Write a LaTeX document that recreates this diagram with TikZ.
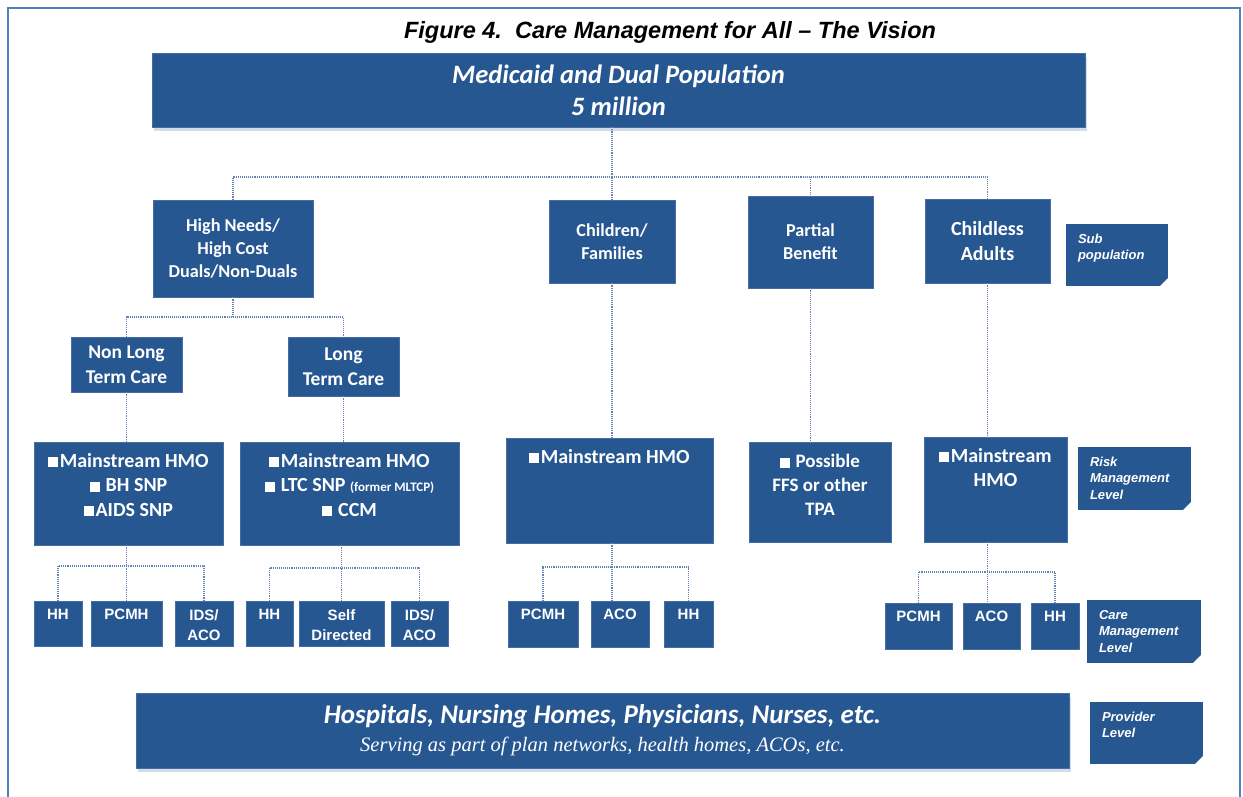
\documentclass[tikz,border=0pt]{standalone}
\usepackage{fontspec}
\setmainfont{Carlito}
\newfontfamily\arialf{Liberation Sans}
\newfontfamily\seriff{Liberation Serif}
\usetikzlibrary{shadows}
\definecolor{boxblue}{RGB}{39,87,145}
\definecolor{boxedge}{RGB}{70,110,165}
\definecolor{dotc}{RGB}{100,130,180}
\definecolor{framec}{RGB}{79,129,189}
\newcommand{\sqb}{\rule{0.5em}{0.5em}\kern1.5pt}
\newcommand{\topbox}[4]{\parbox[c][#2][t]{#1}{\centering\vspace*{#3}#4\par}}
\newcommand{\lvltext}[3]{\parbox[c][#2][t]{#1}{\raggedright\leftskip=12pt\vspace*{10pt}#3\par}}
\begin{document}
\begin{tikzpicture}[x=1pt,y=-1pt,
  box/.style={fill=boxblue, draw=boxedge, line width=0.6pt, text=white, inner sep=0pt, align=center},
  wh/.style 2 args={minimum width=#1, minimum height=#2},
  mid/.style={font=\bfseries\fontsize{18.2}{23}\selectfont},
  plan/.style={font=\bfseries\fontsize{20}{24.5}\selectfont},
  small/.style={font=\arialf\bfseries\fontsize{15}{20}\selectfont},
  lvl/.style={fill=boxblue, text=white, inner sep=0pt,
    font=\arialf\bfseries\itshape\fontsize{13}{16.5}\selectfont,
    path picture={\fill[white] ([xshift=-8pt]path picture bounding box.south east) -- (path picture bounding box.south east) -- ([yshift=8pt]path picture bounding box.south east) -- cycle;}},
  conn/.style={draw=dotc, line width=1.2pt, dash pattern=on 1.1pt off 1pt},
  shade/.style={drop shadow={shadow xshift=2pt, shadow yshift=-4pt, fill=boxblue!35, opacity=0.6}}
]
\useasboundingbox (0,0) rectangle (1243,797);
\draw[framec, line width=1.5pt] (8,800) -- (8,8) -- (1240,8) -- (1240,800);

\node[font=\arialf\bfseries\itshape\fontsize{23.5}{28}\selectfont] (title) at (670,32) {Figure 4.\ \ Care Management for All – The Vision};

\node[box, shade, wh={933}{74}, font=\bfseries\itshape\fontsize{26.5}{32}\selectfont] (top) at (618.5,90) {Medicaid and Dual Population\\5 million};

% sub populations
\node[box, mid, wh={160}{97}] (hn) at (233,248.5) {High Needs/\\High Cost\\Duals/Non-Duals};
\node[box, mid, wh={126}{83}] (ch) at (612,241.5) {Children/\\Families};
\node[box, mid, wh={125}{92}] (pb) at (810.5,242) {Partial\\Benefit};
\node[box, wh={125}{84}, font=\bfseries\fontsize{20}{25}\selectfont] (ca) at (987.5,241) {Childless\\Adults};
\node[lvl] (subp) at (1117,255) {\lvltext{102pt}{62pt}{Sub\\population}};

\node[box, wh={111}{55}, font=\bfseries\fontsize{19.5}{25}\selectfont] (nl) at (126.5,364.5) {Non Long\\Term Care};
\node[box, wh={111}{59}, font=\bfseries\fontsize{19.5}{25}\selectfont] (lt) at (343.5,366.5) {Long\\Term Care};

% risk management level
\node[box, plan] (pa) at (128.5,493.5) {\topbox{189pt}{103pt}{11pt}{\sqb Mainstream HMO\\\sqb{} BH SNP\\\sqb AIDS SNP}};
\node[box, plan] (pbx) at (349.5,493.5) {\topbox{219pt}{103pt}{11pt}{\sqb Mainstream HMO\\\sqb{} LTC SNP {\fontsize{13}{14}\selectfont(former MLTCP)}\\\sqb{} CCM}};
\node[box, plan] (pc) at (609.5,490.5) {\topbox{207pt}{105pt}{11pt}{\sqb Mainstream HMO}};
\node[box, plan, font=\bfseries\fontsize{19}{24}\selectfont] (pd) at (820,492) {\topbox{142pt}{100pt}{12.5pt}{\sqb{} Possible\\FFS or other\\TPA}};
\node[box, plan] (pe) at (995.5,489.5) {\topbox{143pt}{105pt}{11pt}{\sqb Mainstream\\HMO}};
\node[lvl] (risk) at (1134.5,478.5) {\lvltext{113pt}{63pt}{Risk\\Management\\Level}};

% care management level
\node[box, small] (hh1) at (58,623.5) {\topbox{48pt}{45pt}{8.5pt}{HH}};
\node[box, small] (pc1) at (126.5,623.5) {\topbox{71pt}{45pt}{8.5pt}{PCMH}};
\node[box, small] (ia1) at (204,623.5) {\topbox{58pt}{45pt}{8.5pt}{IDS/\\ACO}};
\node[box, small] (hh2) at (269.5,623.5) {\topbox{47pt}{45pt}{8.5pt}{HH}};
\node[box, small] (sd) at (341.5,623.5) {\topbox{85pt}{45pt}{8.5pt}{Self\\Directed}};
\node[box, small] (ia2) at (419.5,623.5) {\topbox{57pt}{45pt}{8.5pt}{IDS/\\ACO}};
\node[box, small] (pc3) at (543,624) {\topbox{70pt}{46pt}{8.5pt}{PCMH}};
\node[box, small] (ac3) at (620,624) {\topbox{58pt}{46pt}{8.5pt}{ACO}};
\node[box, small] (hh3) at (688.5,624) {\topbox{49pt}{46pt}{8.5pt}{HH}};
\node[box, small] (pc5) at (918.5,626) {\topbox{67pt}{46pt}{8.5pt}{PCMH}};
\node[box, small] (ac5) at (991.5,626) {\topbox{57pt}{46pt}{8.5pt}{ACO}};
\node[box, small] (hh5) at (1055,626) {\topbox{48pt}{46pt}{8.5pt}{HH}};
\node[lvl] (carel) at (1144,631.5) {\lvltext{114pt}{63pt}{Care\\Management\\Level}};

% provider level
\node[box, shade, wh={933}{75}, font=\fontsize{27}{28}\selectfont] (prov) at (602.5,730.5) {{\bfseries\itshape Hospitals, Nursing Homes, Physicians, Nurses, etc.}\\{\seriff\itshape\fontsize{20.5}{20}\selectfont Serving as part of plan networks, health homes, ACOs, etc.}};
\node[lvl] (provl) at (1146.5,733) {\lvltext{113pt}{62pt}{Provider\\Level}};

% connectors
\coordinate (bus) at (612,177);
\coordinate (busH) at (233,317);
\coordinate (busA) at (0,566);
\coordinate (busB) at (0,568);
\coordinate (busC) at (0,567);
\coordinate (busE) at (0,572);
\draw[conn] (top.south -| ch.north) -- (ch.north);
\draw[conn] (hn.north) -- (hn.north |- bus) -| (ca.north);
\draw[conn] (pb.north |- bus) -- (pb.north);
\draw[conn] (hn.south) -- (busH);
\draw[conn] (nl.north) -- (nl.north |- busH) -| (lt.north);
\draw[conn] (nl.south) -- (nl.south |- pa.north);
\draw[conn] (lt.south) -- (lt.south |- pbx.north);
\draw[conn] (ch.south) -- (ch.south |- pc.north);
\draw[conn] (pb.south) -- (pb.south |- pd.north);
\draw[conn] (ca.south) -- (ca.south |- pe.north);
\draw[conn] (hh1.north) -- (hh1.north |- busA) -| (ia1.north);
\draw[conn] (pc1.north |- pa.south) -- (pc1.north);
\draw[conn] (hh2.north) -- (hh2.north |- busB) -| (ia2.north);
\draw[conn] (sd.north |- pbx.south) -- (sd.north);
\draw[conn] (pc3.north) -- (pc3.north |- busC) -| (hh3.north);
\draw[conn] (ch.south |- pc.south) -- (ch.south |- ac3.north);
\draw[conn] (pc5.north) -- (pc5.north |- busE) -| (hh5.north);
\draw[conn] (ca.south |- pe.south) -- (ca.south |- ac5.north);
\end{tikzpicture}
\end{document}
